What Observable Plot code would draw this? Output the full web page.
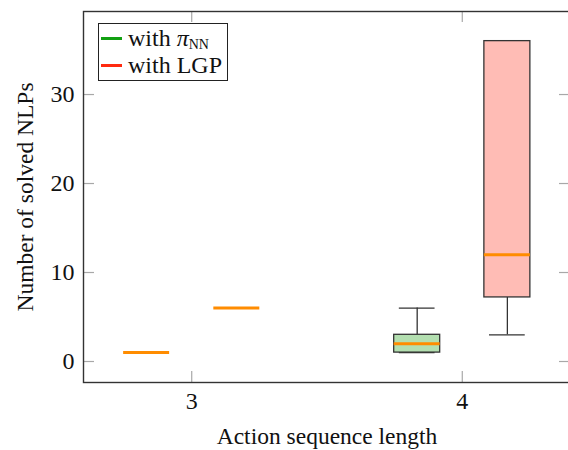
<!DOCTYPE html>
<html>
<head>
<meta charset="utf-8">
<script src="https://cdn.jsdelivr.net/npm/d3@7"></script>
<script src="https://cdn.jsdelivr.net/npm/@observablehq/plot@0.6"></script>
<style>
  html, body { margin: 0; padding: 0; background: #fff; overflow: hidden; }
  #wrap { position: relative; width: 568px; height: 450px; font-family: "Liberation Serif", "Times New Roman", serif; }
  #legend { position: absolute; left: 98px; top: 23px; width: 130px; height: 58px; border: 1px solid #222; background: #fff; box-sizing: border-box; font-size: 24px; color: #111; }
  .row { position: absolute; left: 2px; height: 27px; display: flex; align-items: center; white-space: nowrap; }
  .sw { display: inline-block; width: 21px; height: 3px; margin-right: 6px; }
  sub { font-size: 14px; vertical-align: -3px; font-style: normal; }
</style>
</head>
<body>
<div id="wrap"></div>
<script>
// ---- data ----
const lengths     = [3, 3, 4, 4];
const methods     = ["NN", "LGP", "NN", "LGP"];
const lowWhisker  = [1, 6, 1, 3];
const q1          = [1, 6, 1, 7.2];
const median      = [1, 6, 2, 12];
const q3          = [1, 6, 3, 36];
const highWhisker = [1, 6, 6, 36];
const xTicks = [3, 4];
const yTicks = [0, 10, 20, 30];
const legendLabels = ["with <i>π</i><sub>NN</sub>", "with LGP"];

// ---- styling ----
const offset = {NN: -1/6, LGP: 1/6};
const fill = {NN: "#b3dfb0", LGP: "#ffbcb5"};
const legendColor = {NN: "#12a012", LGP: "#ff2a10"};
const boxHalf = 0.085, capHalf = 0.066;

const rows = lengths.map((l, i) => ({
  x: l + offset[methods[i]], m: methods[i],
  lw: lowWhisker[i], q1: q1[i], med: median[i], q3: q3[i], hw: highWhisker[i]
}));
const boxes = rows.filter(d => d.q3 > d.q1);

const W = 568, H = 450, mL = 83, mR = -2, mT = 11, mB = 68;
const xDom = [2.6, 4.4], yDom = [-2.36, 39.33];
const pxX = (W - mL - mR) / (xDom[1] - xDom[0]);
const pxY = (H - mT - mB) / (yDom[1] - yDom[0]);
const tickLen = 11;
const tickColor = "#a8a8a8";
const font = 24;

const chart = Plot.plot({
  width: W, height: H,
  marginLeft: mL, marginRight: mR, marginTop: mT, marginBottom: mB,
  style: {fontFamily: "'Liberation Serif', 'Times New Roman', serif", background: "white", overflow: "visible"},
  x: {domain: xDom, axis: null},
  y: {domain: yDom, axis: null},
  marks: [
    // inner ticks
    Plot.ruleY(yTicks, {y: d => d, x1: xDom[0], x2: xDom[0] + tickLen / pxX, stroke: tickColor, strokeWidth: 1.2}),
    Plot.ruleY(yTicks, {y: d => d, x1: xDom[1] - tickLen / pxX, x2: xDom[1], stroke: tickColor, strokeWidth: 1.2}),
    Plot.ruleX(xTicks, {x: d => d, y1: yDom[0], y2: yDom[0] + tickLen / pxY, stroke: tickColor, strokeWidth: 1.2}),
    Plot.ruleX(xTicks, {x: d => d, y1: yDom[1] - tickLen / pxY, y2: yDom[1], stroke: tickColor, strokeWidth: 1.2}),
    // whiskers
    Plot.ruleX(boxes, {x: "x", y1: "q3", y2: "hw", stroke: "#333", strokeWidth: 1.3}),
    Plot.ruleX(boxes, {x: "x", y1: "lw", y2: "q1", stroke: "#333", strokeWidth: 1.3}),
    Plot.ruleY(boxes, {y: "hw", x1: d => d.x - capHalf, x2: d => d.x + capHalf, stroke: "#333", strokeWidth: 1.3}),
    Plot.ruleY(boxes, {y: "lw", x1: d => d.x - capHalf, x2: d => d.x + capHalf, stroke: "#333", strokeWidth: 1.3}),
    // boxes
    Plot.rect(boxes, {x1: d => d.x - boxHalf, x2: d => d.x + boxHalf, y1: "q1", y2: "q3",
      fill: d => fill[d.m], stroke: "#333", strokeWidth: 1.3}),
    // medians
    Plot.ruleY(rows, {y: "med", x1: d => d.x - boxHalf, x2: d => d.x + boxHalf, stroke: "#ff8c00", strokeWidth: 3}),
    // frame
    Plot.frame({stroke: "#333", strokeWidth: 1.4}),
    // tick labels
    Plot.text(yTicks, {y: d => d, text: d => String(d), frameAnchor: "left", dx: -9, textAnchor: "end", lineAnchor: "middle", fontSize: font, fill: "#111"}),
    Plot.text(xTicks, {x: d => d, text: d => String(d), frameAnchor: "bottom", dy: 19, textAnchor: "middle", lineAnchor: "middle", fontSize: font, fill: "#111"}),
    // axis titles
    Plot.text(["Number of solved NLPs"], {frameAnchor: "left", dx: -58, rotate: -90, textAnchor: "middle", lineAnchor: "middle", fontSize: 23.5, fill: "#111"}),
    Plot.text(["Action sequence length"], {frameAnchor: "bottom", dy: 53.5, textAnchor: "middle", lineAnchor: "middle", fontSize: 23.5, fill: "#111"})
  ]
});

const wrap = document.getElementById("wrap");
wrap.appendChild(chart);

const legend = document.createElement("div");
legend.id = "legend";
["NN", "LGP"].forEach((m, i) => {
  const r = document.createElement("div");
  r.className = "row";
  r.style.top = (1 + i * 27) + "px";
  r.innerHTML = `<span class="sw" style="background:${legendColor[m]}"></span><span>${legendLabels[i]}</span>`;
  legend.appendChild(r);
});
wrap.appendChild(legend);
</script>
</body>
</html>
